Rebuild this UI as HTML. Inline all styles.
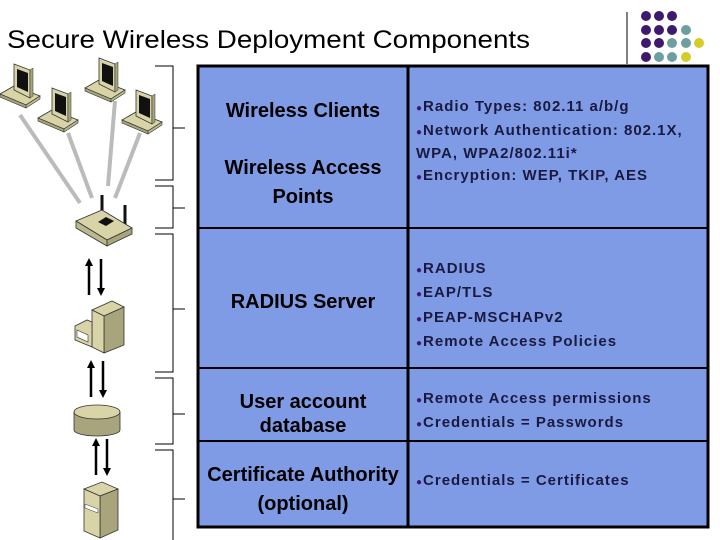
<!DOCTYPE html>
<html><head><meta charset="utf-8"><style>
html,body{margin:0;padding:0;background:#fff;}
svg{display:block;}
text{font-family:"Liberation Sans",Arial,sans-serif;}
</style></head><body>
<svg width="720" height="540" viewBox="0 0 720 540" xmlns="http://www.w3.org/2000/svg">
<defs>
<g id="lap">
  <polygon points="0,34 14,26 40,36 26,45" fill="#d8d4a8" stroke="#333" stroke-width="0.8"/>
  <polygon points="0,34 26,45 26,48 0,37" fill="#a8a47c" stroke="#333" stroke-width="0.6"/>
  <polygon points="26,45 40,36 40,39 26,48" fill="#bdb98f" stroke="#333" stroke-width="0.6"/>
  <polygon points="14,4 30,10 30,38 14,30" fill="#d8d4a8" stroke="#333" stroke-width="0.8"/>
  <polygon points="17,9 28,13 28,32 17,27" fill="#111"/>
  <polygon points="30,10 33,8 33,36 30,38" fill="#a8a47c" stroke="#333" stroke-width="0.5"/>
</g>
<marker id="ah" markerWidth="8" markerHeight="8" refX="4" refY="4" orient="auto" markerUnits="userSpaceOnUse"><path d="M0,0 L8,4 L0,8 z" fill="#000"/></marker>
</defs>

<text x="7" y="48" font-size="25" fill="#000" textLength="523" lengthAdjust="spacingAndGlyphs">Secure Wireless Deployment Components</text>

<!-- logo -->
<line x1="627" y1="12" x2="627" y2="64" stroke="#000" stroke-width="1"/>
<g>
<circle cx="646" cy="16" r="5" fill="#3d1a6e"/><circle cx="659" cy="16" r="5" fill="#3d1a6e"/><circle cx="672" cy="16" r="5" fill="#3d1a6e"/>
<circle cx="646" cy="30" r="5" fill="#3d1a6e"/><circle cx="659" cy="30" r="5" fill="#3d1a6e"/><circle cx="672" cy="30" r="5" fill="#3d1a6e"/><circle cx="686" cy="30" r="5" fill="#6e9fa0"/>
<circle cx="646" cy="43" r="5" fill="#3d1a6e"/><circle cx="659" cy="43" r="5" fill="#3d1a6e"/><circle cx="672" cy="43" r="5" fill="#6e9fa0"/><circle cx="686" cy="43" r="5" fill="#6e9fa0"/><circle cx="699" cy="43" r="5" fill="#d4cc2a"/>
<circle cx="646" cy="57" r="5" fill="#3d1a6e"/><circle cx="659" cy="57" r="5" fill="#6e9fa0"/><circle cx="672" cy="57" r="5" fill="#6e9fa0"/><circle cx="686" cy="57" r="5" fill="#d4cc2a"/>
</g>

<!-- table -->
<rect x="198" y="66" width="510" height="461" fill="#7f9be6" stroke="#000" stroke-width="3"/>
<line x1="408" y1="66" x2="408" y2="527" stroke="#000" stroke-width="3"/>
<line x1="198" y1="228" x2="708" y2="228" stroke="#000" stroke-width="2"/>
<line x1="198" y1="368" x2="708" y2="368" stroke="#000" stroke-width="2"/>
<line x1="198" y1="441" x2="708" y2="441" stroke="#000" stroke-width="2"/>

<g font-size="20" font-weight="bold" fill="#000" text-anchor="middle">
<text x="303" y="117">Wireless Clients</text>
<text x="303" y="174">Wireless Access</text>
<text x="303" y="203">Points</text>
<text x="303" y="308">RADIUS Server</text>
<text x="303" y="408">User account</text>
<text x="303" y="432">database</text>
<text x="303" y="481">Certificate Authority</text>
<text x="303" y="510">(optional)</text>
</g>
<g font-size="15" font-weight="bold" fill="#1a1a40" letter-spacing="1">
<text x="416" y="111"><tspan fill="#3d1a6e" font-size="10">●</tspan>Radio Types: 802.11 a/b/g</text>
<text x="416" y="135"><tspan fill="#3d1a6e" font-size="10">●</tspan>Network Authentication: 802.1X,</text>
<text x="416" y="158">WPA, WPA2/802.11i*</text>
<text x="416" y="180"><tspan fill="#3d1a6e" font-size="10">●</tspan>Encryption: WEP, TKIP, AES</text>
<text x="416" y="273"><tspan fill="#3d1a6e" font-size="10">●</tspan>RADIUS</text>
<text x="416" y="297"><tspan fill="#3d1a6e" font-size="10">●</tspan>EAP/TLS</text>
<text x="416" y="322"><tspan fill="#3d1a6e" font-size="10">●</tspan>PEAP-MSCHAPv2</text>
<text x="416" y="346"><tspan fill="#3d1a6e" font-size="10">●</tspan>Remote Access Policies</text>
<text x="416" y="403"><tspan fill="#3d1a6e" font-size="10">●</tspan>Remote Access permissions</text>
<text x="416" y="427"><tspan fill="#3d1a6e" font-size="10">●</tspan>Credentials = Passwords</text>
<text x="416" y="485"><tspan fill="#3d1a6e" font-size="10">●</tspan>Credentials = Certificates</text>
</g>

<!-- brackets -->
<g stroke="#000" stroke-width="1" fill="none">
<path d="M155,66 H173 V180 H155 M173,128 H185"/>
<path d="M155,186 H173 V228 H155 M173,208 H185"/>
<path d="M155,234 H173 V372 H155 M173,309 H185"/>
<path d="M155,378 H173 V444 H155 M173,414 H185"/>
<path d="M155,450 H173 V540 M173,499 H185"/>
</g>

<!-- wireless lines -->
<g stroke="#bbb" stroke-width="4">
<line x1="20" y1="115" x2="80" y2="203"/>
<line x1="68" y1="133" x2="92" y2="198"/>
<line x1="115" y1="101" x2="108" y2="186"/>
<line x1="140" y1="133" x2="115" y2="198"/>
</g>

<use href="#lap" x="0" y="60"/>
<use href="#lap" x="38" y="84"/>
<use href="#lap" x="85" y="54"/>
<use href="#lap" x="122" y="86"/>

<!-- router -->
<line x1="102" y1="195" x2="102" y2="215" stroke="#111" stroke-width="3"/>
<line x1="125" y1="205" x2="125" y2="228" stroke="#111" stroke-width="3"/>
<polygon points="76,221 102,210 132,228 107,240" fill="#d8d4a8" stroke="#333" stroke-width="0.8"/>
<polygon points="76,221 107,240 107,246 76,228" fill="#bdb98f" stroke="#333" stroke-width="0.8"/>
<polygon points="107,240 132,228 132,234 107,246" fill="#a8a47c" stroke="#333" stroke-width="0.8"/>
<polygon points="98,222 106,217 114,221 106,226" fill="#111"/>

<!-- arrows -->
<g stroke="#000" stroke-width="2.5">
<line x1="89" y1="295" x2="89" y2="262" marker-end="url(#ah)"/>
<line x1="101" y1="259" x2="101" y2="292" marker-end="url(#ah)"/>
<line x1="91" y1="397" x2="91" y2="364" marker-end="url(#ah)"/>
<line x1="103" y1="361" x2="103" y2="394" marker-end="url(#ah)"/>
<line x1="96" y1="475" x2="96" y2="442" marker-end="url(#ah)"/>
<line x1="107" y1="439" x2="107" y2="472" marker-end="url(#ah)"/>
</g>

<!-- server -->
<polygon points="92,310 112,301 124,307 104,316" fill="#d8d4a8" stroke="#333" stroke-width="0.8"/>
<polygon points="104,316 124,307 124,345 104,353" fill="#a8a47c" stroke="#333" stroke-width="0.8"/>
<polygon points="92,310 104,316 104,353 92,347" fill="#d8d4a8" stroke="#333" stroke-width="0.8"/>
<polygon points="75,326 87,320 92,322 92,347 75,340" fill="#d8d4a8" stroke="#333" stroke-width="0.8"/>
<polygon points="77,330 88,335 88,342 77,337" fill="#fff" stroke="#333" stroke-width="0.6"/>

<!-- disk -->
<path d="M74,412 V430 A23,6 0 0 0 120,430 V412" fill="#a8a47c" stroke="#333" stroke-width="0.8"/>
<ellipse cx="97" cy="412" rx="23" ry="7" fill="#d8d4a8" stroke="#333" stroke-width="0.8"/>

<!-- tower -->
<polygon points="84,489 102,482 118,489 100,496" fill="#d8d4a8" stroke="#333" stroke-width="0.8"/>
<polygon points="100,496 118,489 118,530 100,538" fill="#a8a47c" stroke="#333" stroke-width="0.8"/>
<polygon points="84,489 100,496 100,538 84,531" fill="#d8d4a8" stroke="#333" stroke-width="0.8"/>
<polygon points="85,504 98,509 98,513 85,508" fill="#fff" stroke="#333" stroke-width="0.5"/>
</svg>
</body></html>
